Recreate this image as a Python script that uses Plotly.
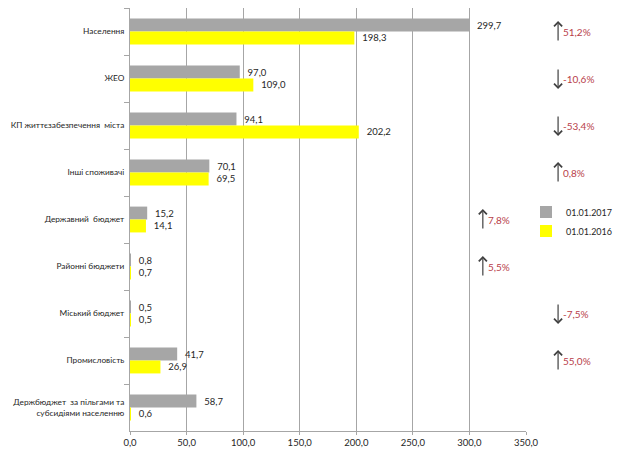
import plotly.graph_objects as go

categories = ["Населення", "ЖЕО", "КП життєзабезпечення  міста", "Інші споживачі",
              "Державний  бюджет", "Районні бюджети", "Міський бюджет", "Промисловість",
              "Держбюджет  за пільгами та<br>субсидіями населенню"]
values_2017 = [299.7, 97.0, 94.1, 70.1, 15.2, 0.8, 0.5, 41.7, 58.7]
values_2016 = [198.3, 109.0, 202.2, 69.5, 14.1, 0.7, 0.5, 26.9, 0.6]
changes = ["51,2%", "-10,6%", "-53,4%", "0,8%", "7,8%", "5,5%", "-7,5%", "55,0%", None]
directions = ["up", "down", "down", "up", "up", "up", "down", "up", None]
x_ticks = [0, 50, 100, 150, 200, 250, 300, 350]

FONT = "Lato"
fig = go.Figure()
fig.add_trace(go.Bar(y=categories, x=values_2017, orientation="h", name="01.01.2017",
                     marker=dict(color="#a6a6a6", line=dict(width=0)),
                     text=values_2017, texttemplate="  %{x:.1f}", textposition="outside",
                     textfont=dict(size=9.5, color="#262626", family=FONT), cliponaxis=False))
fig.add_trace(go.Bar(y=categories, x=values_2016, orientation="h", name="01.01.2016",
                     marker=dict(color="#ffff00", line=dict(width=0)),
                     text=values_2016, texttemplate="  %{x:.1f}", textposition="outside",
                     textfont=dict(size=9.5, color="#262626", family=FONT), cliponaxis=False))

annotations = []
near = {"Державний  бюджет", "Районні бюджети"}
for cat, ch, d in zip(categories, changes, directions):
    if ch is None:
        continue
    xa = 0.891 if cat in near else 1.081
    sign = 1 if d == "up" else -1
    annotations.append(dict(x=xa, xref="paper", y=cat, yref="y", text="", showarrow=True,
                            ax=0, ay=21 * sign, axref="pixel", ayref="pixel",
                            yshift=10.5 * sign, arrowhead=4, arrowsize=1.3, arrowwidth=1.2,
                            arrowcolor="#404040"))
    annotations.append(dict(x=xa, xref="paper", y=cat, yref="y", text=ch, showarrow=False,
                            xanchor="left", xshift=3, yshift=0,
                            font=dict(size=10, color="#b8404a", family=FONT)))

fig.update_layout(
    width=627, height=443, barmode="group", bargap=0.45, bargroupgap=0,
    separators=", ",
    margin=dict(l=122, r=109, t=0, b=20, autoexpand=False),
    paper_bgcolor="white", plot_bgcolor="white",
    font=dict(family=FONT, size=9, color="#262626"),
    xaxis=dict(range=[0, 350], tickvals=x_ticks, tickformat=".1f", showgrid=True,
               gridcolor="#a6a6a6", gridwidth=1, showline=True, linecolor="#a6a6a6",
               ticks="outside", ticklen=3, tickcolor="#a6a6a6", zeroline=False,
               automargin=False,
               tickfont=dict(size=9.5, family=FONT, color="#262626"), fixedrange=True),
    yaxis=dict(autorange="reversed", showline=True, linecolor="#a6a6a6", ticks="outside",
               tickson="boundaries", ticklen=5, tickcolor="#a6a6a6", showgrid=False,
               automargin=False,
               tickfont=dict(size=8.3, family=FONT, color="#262626"), ticklabelstandoff=3),
    legend=dict(x=1.0, y=0.495, xanchor="left", yanchor="middle", bgcolor="rgba(0,0,0,0)",
                font=dict(size=9, family=FONT, color="#262626"), itemwidth=30,
                tracegroupgap=4),
    annotations=annotations,
    showlegend=True,
)
fig.write_html("out.html")
